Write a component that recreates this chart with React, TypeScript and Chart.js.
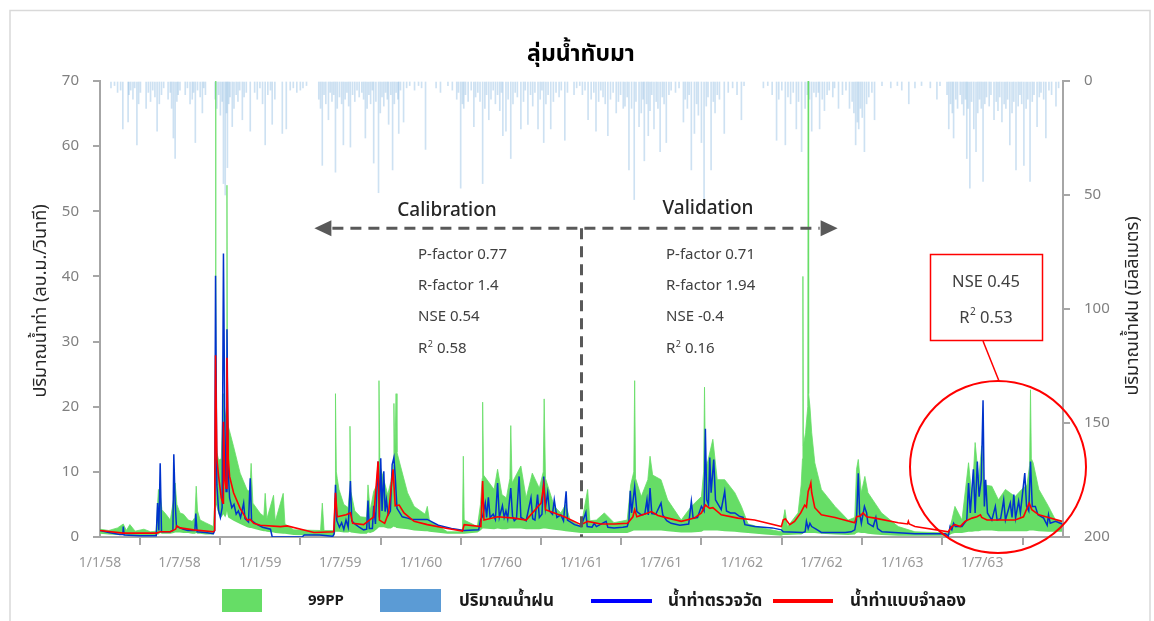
import React, { useEffect, useRef } from 'react';
import { Chart, registerables } from 'chart.js';

Chart.register(...registerables);

const FONT = "'Noto Sans', 'Noto Sans Thai', 'Leelawadee UI', Tahoma, sans-serif";

// x axis: days counted from 1/1/58 (B.E.)
const xTickDays = [0, 181, 365, 547, 731, 912, 1096, 1277, 1461, 1642, 1826, 2008, 2192];
const xTickLabels = ['1/1/58', '1/7/58', '1/1/59', '1/7/59', '1/1/60', '1/7/60', '1/1/61', '1/7/61', '1/1/62', '1/7/62', '1/1/63', '1/7/63', ''];

const titleText = 'ลุ่มน้ำทับมา';
const leftAxisTitle = 'ปริมาณน้ำท่า (ลบ.ม./วินาที)';
const rightAxisTitle = 'ปริมาณน้ำฝน (มิลลิเมตร)';
const legendLabels = ['99PP', 'ปริมาณน้ำฝน', 'น้ำท่าตรวจวัด', 'น้ำท่าแบบจำลอง'];

const calibrationStats = ['P-factor 0.77', 'R-factor 1.4', 'NSE 0.54'];
const calibrationR2 = '0.58';
const validationStats = ['P-factor 0.71', 'R-factor 1.94', 'NSE -0.4'];
const validationR2 = '0.16';
const highlightNSE = 'NSE 0.45';
const highlightR2 = '0.53';

// period limits (days): calibration arrow start, split, validation arrow end
const calibrationStartDay = 488;
const splitDay = 1096;
const validationEndDay = 1679;

// observed discharge (m3/s): [day, value]
const observedFlow: [number, number][] = [
  [0, 1.0], [20, 0.7], [45, 0.4], [52, 0.4], [53, 1.6], [55, 0.3], [90, 0.2], [128, 0.2], [131, 5.2], [134, 1.0],
  [137, 11.3], [140, 0.8], [160, 0.8], [166, 1.0], [168, 12.7], [171, 5.5], [174, 1.6], [190, 1.2], [200, 1.0], [216, 1.0],
  [218, 3.6], [221, 0.8], [240, 0.7], [258, 0.5], [261, 1.0], [263, 40.1], [266, 8.0], [270, 4.0], [274, 3.0], [278, 4.5],
  [281, 43.5], [284, 18.0], [287, 7.0], [289, 31.9], [292, 10.0], [295, 6.0], [300, 4.5], [305, 5.0], [310, 3.5], [315, 4.0],
  [320, 3.0], [327, 5.2], [330, 2.8], [338, 2.3], [342, 9.0], [345, 2.5], [355, 2.0], [370, 1.5], [388, 1.2], [392, 0.0],
  [460, 0.0], [465, 0.3], [500, 0.3], [530, 0.1], [533, 0.5], [536, 8.0], [539, 2.5], [545, 1.5], [550, 2.2], [555, 1.2],
  [560, 2.6], [565, 1.5], [570, 8.6], [573, 2.5], [580, 2.0], [590, 1.5], [600, 1.1], [607, 1.2], [610, 5.6], [613, 1.3],
  [620, 1.3], [623, 4.8], [627, 2.0], [633, 11.6], [636, 3.0], [639, 12.1], [642, 4.0], [646, 10.1], [649, 3.9], [652, 5.7],
  [656, 3.4], [661, 4.0], [665, 11.1], [669, 12.2], [672, 9.3], [676, 4.4], [688, 3.1], [700, 2.9], [710, 2.7], [745, 2.7],
  [770, 1.8], [800, 1.3], [829, 1.0], [862, 1.1], [866, 2.6], [871, 3.2], [877, 5.2], [880, 3.0], [884, 6.1], [888, 3.0],
  [895, 3.5], [900, 2.7], [905, 8.3], [909, 3.0], [916, 4.8], [920, 3.0], [924, 4.0], [928, 2.8], [935, 7.5], [939, 3.2],
  [943, 2.5], [948, 2.8], [954, 9.3], [958, 3.0], [970, 2.5], [981, 6.0], [985, 2.8], [990, 2.6], [996, 6.5], [1000, 3.0],
  [1006, 3.5], [1010, 9.3], [1014, 4.5], [1019, 6.8], [1023, 4.0], [1030, 3.5], [1034, 5.7], [1040, 3.0], [1049, 3.4], [1055, 2.5],
  [1061, 7.0], [1064, 2.6], [1080, 1.9], [1095, 1.6], [1106, 3.8], [1109, 1.6], [1120, 1.5], [1125, 2.1], [1130, 1.6], [1152, 2.4],
  [1156, 1.5], [1170, 1.4], [1190, 1.5], [1200, 1.6], [1204, 2.5], [1207, 7.1], [1210, 3.7], [1217, 7.7], [1222, 3.9], [1232, 3.4],
  [1240, 3.5], [1245, 5.7], [1248, 3.4], [1252, 7.5], [1256, 3.6], [1265, 3.5], [1277, 5.2], [1281, 3.4], [1290, 2.5], [1300, 2.1],
  [1320, 1.8], [1340, 2.0], [1346, 5.5], [1350, 2.9], [1360, 3.0], [1369, 4.7], [1375, 4.0], [1378, 16.6], [1381, 5.7], [1385, 5.0],
  [1388, 12.2], [1391, 6.8], [1397, 11.9], [1401, 5.7], [1414, 4.2], [1422, 7.0], [1426, 4.0], [1435, 3.7], [1445, 3.7], [1455, 3.2],
  [1464, 3.0], [1468, 1.9], [1490, 1.6], [1530, 1.4], [1551, 1.1], [1555, 0.8], [1600, 0.7], [1605, 0.8], [1608, 2.4], [1612, 1.3],
  [1616, 2.1], [1620, 1.6], [1630, 1.2], [1642, 0.7], [1696, 0.7], [1710, 0.8], [1718, 1.1], [1722, 2.6], [1726, 9.8], [1729, 3.7],
  [1733, 2.1], [1740, 4.7], [1745, 3.7], [1748, 2.1], [1760, 1.6], [1766, 3.0], [1770, 1.3], [1780, 0.8], [1855, 0.5], [1924, 0.5],
  [1931, 0.15], [1935, 1.6], [1939, 1.1], [1943, 2.1], [1947, 1.6], [1962, 1.6], [1973, 2.6], [1977, 8.3], [1981, 3.7], [1988, 10.4],
  [1992, 3.7], [1997, 11.6], [2001, 6.2], [2006, 8.8], [2010, 21.0], [2013, 4.7], [2016, 8.8], [2020, 3.7], [2030, 2.6], [2038, 4.7],
  [2042, 2.6], [2050, 2.8], [2057, 5.7], [2061, 2.6], [2072, 5.2], [2076, 3.0], [2080, 6.5], [2084, 2.9], [2091, 5.5], [2095, 3.7],
  [2105, 9.8], [2109, 4.7], [2114, 4.0], [2118, 11.6], [2122, 4.7], [2129, 4.7], [2135, 3.4], [2148, 2.9], [2156, 1.8], [2159, 3.4],
  [2163, 2.1], [2175, 2.4], [2190, 2.0],
];

// simulated discharge (m3/s): [day, value]
const simulatedFlow: [number, number][] = [
  [0, 1.0], [53, 0.6], [129, 0.6], [137, 0.8], [160, 0.8], [172, 1.2], [175, 1.7], [182, 1.4], [213, 1.1], [258, 0.8],
  [261, 1.0], [263, 27.9], [266, 12.0], [270, 9.3], [276, 6.0], [280, 5.2], [281, 17.7], [284, 9.0], [287, 7.5], [289, 27.5],
  [292, 12.0], [295, 9.3], [304, 6.8], [319, 4.4], [335, 2.6], [342, 2.7], [350, 2.1], [365, 1.8], [411, 1.6], [426, 1.7],
  [487, 0.7], [532, 0.8], [536, 6.8], [540, 3.1], [560, 3.4], [570, 3.7], [575, 2.1], [600, 1.9], [623, 3.1], [633, 11.6],
  [636, 2.6], [648, 2.1], [657, 3.7], [667, 10.4], [672, 4.8], [681, 4.9], [692, 3.7], [715, 2.4], [745, 1.9], [791, 1.3],
  [825, 0.9], [829, 1.9], [867, 1.6], [871, 8.6], [874, 2.6], [905, 3.1], [943, 2.9], [970, 2.6], [1004, 5.2], [1010, 8.0],
  [1014, 4.2], [1057, 3.1], [1095, 1.9], [1110, 2.4], [1140, 2.0], [1171, 2.0], [1201, 2.1], [1213, 3.1], [1217, 4.2], [1222, 3.1],
  [1247, 3.7], [1255, 3.9], [1270, 3.3], [1293, 2.9], [1323, 2.4], [1353, 2.9], [1369, 3.7], [1378, 4.9], [1388, 4.4], [1395, 4.5],
  [1414, 3.4], [1452, 2.9], [1490, 2.6], [1551, 1.6], [1555, 2.6], [1560, 2.8], [1570, 1.9], [1581, 2.4], [1595, 3.7], [1604, 4.9],
  [1608, 4.6], [1612, 7.0], [1616, 7.8], [1618, 8.3], [1620, 6.8], [1627, 4.5], [1642, 3.4], [1673, 3.0], [1718, 2.2], [1722, 3.1],
  [1730, 3.2], [1737, 3.7], [1745, 3.1], [1764, 2.9], [1817, 2.2], [1838, 2.0], [1840, 2.4], [1842, 2.0], [1855, 1.6], [1931, 0.8],
  [1939, 1.6], [1946, 1.9], [1958, 1.6], [1969, 2.4], [1985, 2.9], [1996, 3.1], [2004, 3.4], [2007, 3.0], [2019, 2.6], [2045, 2.6],
  [2083, 2.6], [2102, 3.1], [2110, 4.4], [2115, 5.2], [2121, 4.2], [2137, 3.4], [2159, 3.0], [2190, 2.4],
];

// uncertainty band (labelled 99PP): [day, lower, upper]
const band99PP: [number, number, number][] = [
  [0, 0.5, 1.2], [20, 0.4, 1.0], [40, 0.3, 1.4], [53, 0.3, 2.0], [60, 0.3, 1.0], [68, 0.2, 1.9], [80, 0.2, 0.9], [100, 0.2, 1.2],
  [115, 0.2, 0.8], [128, 0.2, 0.9], [131, 0.4, 5.0], [133, 0.4, 7.3], [137, 0.6, 6.5], [141, 0.5, 4.2], [150, 0.5, 3.5], [160, 0.5, 2.6],
  [168, 0.6, 6.0], [171, 0.7, 8.3], [175, 0.7, 5.0], [182, 0.7, 3.7], [190, 0.6, 3.5], [201, 0.6, 2.6], [210, 0.5, 2.4], [216, 0.5, 3.0],
  [219, 0.6, 7.8], [222, 0.5, 4.0], [228, 0.5, 2.6], [240, 0.4, 2.2], [258, 0.4, 1.6], [261, 0.8, 5.0], [262, 3.0, 12], [263, 6.0, 72],
  [264, 5.0, 16], [266, 4.5, 13], [270, 3.5, 11.8], [276, 3.0, 12], [281, 3.5, 22], [285, 3.0, 18], [288, 3.5, 20], [289, 4.0, 54],
  [290, 3.5, 19], [292, 3.0, 17], [304, 2.5, 13.9], [319, 2.0, 9.8], [335, 1.5, 7.2], [341, 1.4, 7.0], [344, 1.4, 11.3], [348, 1.3, 5.2],
  [365, 1.0, 3.6], [373, 0.9, 3.2], [376, 0.9, 6.7], [380, 0.8, 2.8], [395, 0.7, 6.4], [399, 0.6, 2.4], [417, 0.5, 6.7], [421, 0.5, 2.0],
  [441, 0.3, 1.1], [502, 0.2, 1.0], [506, 0.2, 5.2], [510, 0.2, 1.0], [533, 0.2, 1.0], [535, 0.6, 6.0], [536, 0.8, 22], [538, 0.8, 10],
  [540, 0.8, 9.0], [544, 0.8, 7.3], [555, 0.7, 5.0], [565, 0.7, 4.5], [568, 0.8, 7.0], [569, 0.8, 17], [571, 0.7, 7.0], [580, 0.6, 4.0],
  [593, 0.5, 3.1], [607, 0.5, 3.0], [610, 0.7, 8.0], [615, 0.6, 4.0], [623, 0.8, 7.0], [630, 1.2, 8.0], [634, 1.5, 10], [635, 1.5, 24],
  [637, 1.5, 11], [646, 1.5, 8.8], [655, 1.3, 6.5], [662, 1.3, 8.5], [668, 1.6, 11], [669, 1.6, 20.5], [671, 1.5, 12], [674, 1.5, 22],
  [676, 1.4, 13], [684, 1.3, 10.9], [700, 1.2, 6.8], [715, 1.0, 4.7], [740, 0.9, 3.5], [745, 0.9, 4.7], [750, 0.8, 2.5], [791, 0.5, 0.8],
  [825, 0.5, 0.8], [827, 0.5, 12.4], [829, 0.5, 2.6], [859, 0.7, 1.6], [866, 1.0, 5.0], [870, 1.3, 9.0], [871, 1.3, 20.7], [873, 1.3, 9.5],
  [897, 1.2, 7.3], [905, 1.3, 10.4], [915, 1.2, 6.5], [925, 1.2, 6.0], [933, 1.3, 9.0], [935, 1.3, 17.1], [938, 1.3, 8.3], [958, 1.3, 10.9],
  [970, 1.2, 6.0], [984, 1.2, 9.8], [1000, 1.2, 7.5], [1009, 1.3, 10], [1011, 1.3, 21.2], [1014, 1.3, 9.0], [1034, 1.1, 4.7], [1049, 1.0, 3.7],
  [1060, 0.9, 5.0], [1070, 0.8, 2.6], [1095, 0.6, 1.6], [1110, 0.6, 7.3], [1115, 0.6, 2.5], [1130, 0.6, 2.6], [1148, 0.6, 3.7], [1170, 0.6, 2.2],
  [1200, 0.6, 2.6], [1208, 0.8, 8.0], [1215, 1.0, 10], [1217, 1.0, 24], [1219, 1.0, 9.0], [1232, 1.0, 6.2], [1247, 1.0, 8.8], [1252, 1.0, 12.4],
  [1258, 1.0, 9.5], [1277, 1.0, 8.8], [1292, 0.9, 5.7], [1323, 0.7, 2.6], [1346, 0.7, 4.7], [1369, 0.8, 6.2], [1374, 1.0, 10], [1376, 1.0, 23],
  [1378, 1.0, 12], [1381, 1.0, 10.9], [1395, 1.0, 15], [1405, 1.0, 8.8], [1422, 0.9, 8.8], [1445, 0.8, 6.8], [1460, 0.7, 4.7], [1475, 0.6, 2.0],
  [1513, 0.4, 1.3], [1551, 0.2, 0.8], [1555, 0.3, 2.6], [1559, 0.3, 4.2], [1565, 0.3, 1.6], [1589, 0.4, 3.7], [1596, 0.4, 8.0], [1599, 0.5, 12],
  [1600, 0.5, 40], [1601, 0.6, 14], [1606, 0.6, 16], [1611, 0.6, 20], [1612, 0.6, 72], [1613, 0.6, 22], [1616, 0.6, 20], [1620, 0.6, 16],
  [1627, 0.6, 11.4], [1642, 0.5, 7.3], [1673, 0.4, 4.7], [1703, 0.3, 2.6], [1718, 0.4, 3.0], [1722, 0.6, 10.4], [1726, 0.7, 11.9], [1733, 0.6, 6.8],
  [1741, 0.6, 9.3], [1748, 0.5, 6.8], [1764, 0.4, 5.2], [1779, 0.3, 3.7], [1817, 0.2, 1.6], [1855, 0.2, 0.8], [1931, 0.2, 0.6], [1939, 0.5, 2.6],
  [1946, 0.6, 4.7], [1962, 0.6, 2.6], [1977, 0.8, 11.4], [1985, 0.8, 6.0], [1992, 0.9, 14.5], [2000, 0.9, 8.8], [2007, 1.0, 14.0], [2012, 1.0, 8.0],
  [2030, 1.0, 7.8], [2045, 0.9, 5.7], [2061, 0.9, 7.3], [2083, 0.9, 6.2], [2098, 0.9, 7.3], [2110, 0.9, 8.0], [2116, 1.0, 11], [2118, 1.0, 22.6],
  [2120, 1.0, 12], [2124, 1.0, 11.4], [2137, 0.9, 7.3], [2159, 0.8, 4.7], [2175, 0.8, 2.6], [2190, 0.8, 2.4],
];

// daily rainfall (mm): [day, value]
const rainfall: [number, number][] = [
  [25, 3], [33, 2], [40, 5], [47, 4], [52, 21], [64, 18], [66, 6], [70, 4], [75, 8], [79, 3], [84, 28], [88, 10], [92, 5], [105, 12],
  [110, 5], [115, 9], [120, 4], [125, 7], [130, 22], [135, 10], [140, 6], [145, 3], [155, 8], [160, 5], [163, 12], [167, 25], [171, 34],
  [175, 9], [178, 6], [182, 4], [194, 6], [199, 3], [205, 10], [210, 8], [213, 5], [217, 27], [222, 4], [228, 7], [233, 14], [236, 3],
  [240, 6], [262, 8], [266, 12], [270, 6], [274, 15], [278, 9], [281, 45], [285, 50], [288, 14], [290, 38], [293, 10], [296, 7], [301, 20],
  [305, 12], [310, 6], [314, 9], [318, 4], [324, 17], [328, 7], [333, 5], [342, 22], [352, 5], [358, 8], [364, 3], [370, 10], [376, 28],
  [382, 6], [388, 4], [392, 19], [398, 8], [415, 23], [424, 21], [433, 4], [440, 3], [448, 5], [456, 4], [462, 3], [470, 2], [498, 8],
  [502, 12], [506, 37], [510, 6], [514, 10], [520, 17], [524, 5], [528, 9], [532, 6], [536, 40], [540, 12], [545, 7], [550, 10], [554, 28],
  [558, 8], [562, 5], [566, 11], [570, 29], [575, 6], [580, 9], [585, 4], [590, 7], [596, 5], [600, 8], [604, 25], [608, 12], [612, 6],
  [616, 10], [620, 4], [623, 36], [628, 9], [634, 49], [638, 14], [642, 7], [646, 11], [650, 5], [654, 8], [657, 19], [662, 6], [666, 39],
  [670, 10], [674, 5], [678, 8], [680, 23], [684, 4], [691, 18], [698, 3], [705, 2], [716, 4], [725, 2], [732, 3], [741, 30], [765, 3],
  [775, 5], [792, 2], [802, 4], [812, 8], [816, 5], [821, 47], [825, 10], [828, 12], [832, 6], [838, 9], [845, 4], [851, 20], [855, 7],
  [860, 5], [865, 9], [871, 45], [876, 12], [880, 6], [885, 17], [890, 8], [895, 4], [900, 10], [905, 6], [910, 13], [914, 5], [917, 24],
  [924, 22], [929, 8], [935, 34], [940, 10], [945, 5], [950, 7], [958, 21], [964, 9], [968, 4], [974, 19], [980, 6], [985, 11], [990, 5],
  [997, 21], [1002, 8], [1006, 4], [1010, 27], [1015, 10], [1020, 6], [1026, 21], [1032, 9], [1038, 5], [1045, 7], [1050, 4], [1058, 26],
  [1064, 5], [1079, 6], [1085, 3], [1092, 2], [1098, 6], [1104, 4], [1111, 17], [1118, 8], [1124, 5], [1129, 22], [1135, 9], [1140, 4],
  [1145, 7], [1150, 10], [1156, 24], [1162, 8], [1168, 5], [1175, 14], [1180, 9], [1185, 6], [1191, 12], [1195, 11], [1200, 7], [1204, 39],
  [1210, 12], [1216, 52], [1220, 9], [1227, 20], [1232, 14], [1236, 8], [1239, 35], [1244, 10], [1248, 24], [1252, 13], [1256, 6], [1261, 21],
  [1266, 9], [1270, 12], [1275, 31], [1280, 7], [1284, 10], [1289, 27], [1295, 6], [1300, 4], [1310, 5], [1318, 3], [1328, 18], [1332, 8],
  [1337, 12], [1341, 6], [1346, 39], [1353, 23], [1358, 10], [1362, 15], [1369, 27], [1375, 54], [1380, 11], [1384, 7], [1391, 39], [1396, 9],
  [1400, 14], [1405, 6], [1410, 8], [1421, 23], [1430, 5], [1440, 3], [1450, 6], [1460, 17], [1466, 2], [1510, 3], [1520, 2], [1530, 6],
  [1540, 26], [1545, 8], [1552, 4], [1560, 28], [1566, 7], [1572, 10], [1578, 5], [1585, 21], [1590, 9], [1597, 31], [1605, 12], [1610, 6],
  [1615, 8], [1620, 22], [1625, 5], [1630, 7], [1635, 5], [1638, 21], [1644, 8], [1649, 13], [1655, 6], [1660, 4], [1668, 7], [1672, 3],
  [1681, 12], [1690, 6], [1698, 4], [1706, 12], [1712, 9], [1716, 14], [1720, 28], [1724, 18], [1727, 21], [1731, 12], [1735, 16], [1740, 31],
  [1745, 10], [1750, 7], [1757, 5], [1763, 17], [1780, 2], [1800, 3], [1815, 2], [1825, 4], [1841, 10], [1855, 3], [1870, 2], [1890, 3],
  [1905, 8], [1912, 2], [1928, 6], [1932, 21], [1936, 10], [1940, 14], [1943, 25], [1948, 8], [1952, 12], [1958, 6], [1962, 10], [1966, 15],
  [1970, 8], [1973, 34], [1976, 12], [1980, 47], [1984, 9], [1989, 21], [1994, 31], [1998, 14], [2002, 8], [2006, 12], [2010, 44], [2014, 10],
  [2018, 7], [2024, 11], [2028, 6], [2035, 17], [2040, 9], [2044, 13], [2048, 7], [2053, 18], [2058, 10], [2062, 12], [2066, 8], [2071, 28],
  [2076, 14], [2080, 9], [2085, 39], [2090, 11], [2094, 6], [2098, 10], [2103, 37], [2108, 12], [2112, 8], [2117, 44], [2122, 9], [2126, 6],
  [2133, 20], [2138, 7], [2142, 5], [2148, 8], [2153, 25], [2160, 4], [2166, 6], [2176, 11], [2182, 3],
];

const COLORS = {
  green: '#66dd66',
  rain: 'rgba(91,155,213,0.3)',
  rainLegend: '#5b9bd5',
  observed: '#0033cc',
  observedLegend: '#0000ff',
  simulated: '#ff0000',
  axis: '#a6a6a6',
  tick: '#808080',
  dash: '#595959',
  text: '#404040',
};

function drawR2(ctx: CanvasRenderingContext2D, x: number, y: number, val: string, size: number, color: string) {
  ctx.fillStyle = color;
  ctx.textAlign = 'left';
  ctx.textBaseline = 'middle';
  ctx.font = `${size}px ${FONT}`;
  ctx.fillText('R', x, y);
  const w = ctx.measureText('R').width;
  ctx.font = `${Math.round(size * 0.62)}px ${FONT}`;
  ctx.fillText('2', x + w + 0.5, y - size * 0.33);
  const w2 = ctx.measureText('2').width;
  ctx.font = `${size}px ${FONT}`;
  ctx.fillText(' ' + val, x + w + w2 + 0.5, y);
}

function r2Width(ctx: CanvasRenderingContext2D, val: string, size: number) {
  ctx.font = `${size}px ${FONT}`;
  const w = ctx.measureText('R').width + ctx.measureText(' ' + val).width;
  ctx.font = `${Math.round(size * 0.62)}px ${FONT}`;
  return w + ctx.measureText('2').width + 0.5;
}

const decorPlugin = {
  id: 'decor',
  beforeDraw(chart: any) {
    const ctx: CanvasRenderingContext2D = chart.ctx;
    ctx.save();
    ctx.fillStyle = '#ffffff';
    ctx.fillRect(0, 0, chart.width, chart.height);
    ctx.strokeStyle = '#d9d9d9';
    ctx.lineWidth = 1.5;
    ctx.strokeRect(10, 10.5, 1140, 640);
    ctx.restore();
  },
  afterDatasetsDraw(chart: any) {
    const ctx: CanvasRenderingContext2D = chart.ctx;
    const xs = chart.scales.x;
    const ys = chart.scales.y;
    ctx.save();
    const arrowY = ys.getPixelForValue(47.4);
    const splitX = xs.getPixelForValue(splitDay);
    const leftTip = xs.getPixelForValue(calibrationStartDay);
    const rightTip = xs.getPixelForValue(validationEndDay);
    ctx.strokeStyle = COLORS.dash;
    ctx.fillStyle = COLORS.dash;
    ctx.lineWidth = 3;
    ctx.setLineDash([11, 7]);
    ctx.beginPath();
    ctx.moveTo(leftTip + 18, arrowY);
    ctx.lineTo(rightTip - 18, arrowY);
    ctx.stroke();
    ctx.beginPath();
    ctx.moveTo(splitX, arrowY);
    ctx.lineTo(splitX, ys.getPixelForValue(0));
    ctx.stroke();
    ctx.setLineDash([]);
    ctx.beginPath();
    ctx.moveTo(leftTip, arrowY);
    ctx.lineTo(leftTip + 17, arrowY - 8);
    ctx.lineTo(leftTip + 17, arrowY + 8);
    ctx.closePath();
    ctx.fill();
    ctx.beginPath();
    ctx.moveTo(rightTip, arrowY);
    ctx.lineTo(rightTip - 17, arrowY - 8);
    ctx.lineTo(rightTip - 17, arrowY + 8);
    ctx.closePath();
    ctx.fill();

    ctx.fillStyle = '#262626';
    ctx.textAlign = 'center';
    ctx.textBaseline = 'middle';
    ctx.font = `500 19px ${FONT}`;
    ctx.fillText('Calibration', 447, 211);
    ctx.fillText('Validation', 708, 209);

    ctx.font = `15px ${FONT}`;
    ctx.fillStyle = COLORS.text;
    ctx.textAlign = 'left';
    const rows = [255, 286, 317, 349];
    calibrationStats.forEach((s, i) => ctx.fillText(s, 418, rows[i]));
    drawR2(ctx, 418, rows[3], calibrationR2, 15, COLORS.text);
    ctx.font = `15px ${FONT}`;
    ctx.textAlign = 'left';
    validationStats.forEach((s, i) => ctx.fillText(s, 666, rows[i]));
    drawR2(ctx, 666, rows[3], validationR2, 15, COLORS.text);

    ctx.fillStyle = '#ffffff';
    ctx.fillRect(930, 254, 112, 86);
    ctx.strokeStyle = '#ff0000';
    ctx.lineWidth = 1.5;
    ctx.strokeRect(930.5, 254.5, 112, 86);
    ctx.fillStyle = COLORS.text;
    ctx.font = `16.5px ${FONT}`;
    ctx.textAlign = 'center';
    ctx.fillText(highlightNSE, 986, 282);
    const w = r2Width(ctx, highlightR2, 16.5);
    drawR2(ctx, 986 - w / 2, 318, highlightR2, 16.5, COLORS.text);
    ctx.strokeStyle = '#ff0000';
    ctx.lineWidth = 1.5;
    ctx.beginPath();
    ctx.moveTo(983, 341);
    ctx.lineTo(999, 381);
    ctx.stroke();
    ctx.lineWidth = 2;
    ctx.beginPath();
    ctx.ellipse(998, 467, 88, 86, 0, 0, Math.PI * 2);
    ctx.stroke();
    ctx.restore();
  },
  afterDraw(chart: any) {
    const ctx: CanvasRenderingContext2D = chart.ctx;
    const area = chart.chartArea;
    const midY = (area.top + area.bottom) / 2;
    ctx.save();
    ctx.fillStyle = '#000000';
    ctx.textAlign = 'center';
    ctx.textBaseline = 'middle';
    ctx.font = `bold 23px ${FONT}`;
    ctx.fillText(titleText, 581, 54);

    ctx.font = `18px ${FONT}`;
    ctx.fillStyle = '#262626';
    ctx.save();
    ctx.translate(41, midY - 8);
    ctx.rotate(-Math.PI / 2);
    ctx.fillText(leftAxisTitle, 0, 0);
    ctx.restore();
    ctx.save();
    ctx.translate(1133, midY - 3);
    ctx.rotate(-Math.PI / 2);
    ctx.fillText(rightAxisTitle, 0, 0);
    ctx.restore();

    const ly = 601;
    ctx.textAlign = 'left';
    ctx.fillStyle = COLORS.green;
    ctx.fillRect(222, 589, 40, 23);
    ctx.fillStyle = COLORS.rainLegend;
    ctx.fillRect(380, 589, 61, 23);
    ctx.strokeStyle = COLORS.observedLegend;
    ctx.lineWidth = 4;
    ctx.beginPath();
    ctx.moveTo(591, ly);
    ctx.lineTo(652, ly);
    ctx.stroke();
    ctx.strokeStyle = COLORS.simulated;
    ctx.beginPath();
    ctx.moveTo(773, ly);
    ctx.lineTo(833, ly);
    ctx.stroke();
    ctx.fillStyle = '#1a1a1a';
    ctx.font = `bold 15px ${FONT}`;
    ctx.fillText(legendLabels[0], 308, ly);
    ctx.font = `bold 17px ${FONT}`;
    ctx.fillText(legendLabels[1], 459, ly);
    ctx.fillText(legendLabels[2], 668, ly);
    ctx.fillText(legendLabels[3], 850, ly);
    ctx.restore();
  },
};

export default function App() {
  const canvasRef = useRef<HTMLCanvasElement | null>(null);

  useEffect(() => {
    const canvas = canvasRef.current;
    if (!canvas) return;
    const chart = new Chart(canvas, {
      type: 'line',
      data: {
        datasets: [
          {
            type: 'line',
            label: legendLabels[3],
            data: simulatedFlow.map(([x, y]) => ({ x, y })),
            borderColor: COLORS.simulated,
            borderWidth: 1.6,
            pointRadius: 0,
            yAxisID: 'y',
            order: 0,
          },
          {
            type: 'line',
            label: legendLabels[2],
            data: observedFlow.map(([x, y]) => ({ x, y })),
            borderColor: COLORS.observed,
            borderWidth: 1.5,
            pointRadius: 0,
            yAxisID: 'y',
            order: 1,
          },
          {
            type: 'line',
            label: legendLabels[0],
            data: band99PP.map(([x, , hi]) => ({ x, y: hi })),
            borderColor: COLORS.green,
            borderWidth: 0.8,
            backgroundColor: COLORS.green,
            pointRadius: 0,
            fill: '+1',
            yAxisID: 'y',
            order: 2,
          },
          {
            type: 'line',
            label: '99PP lower',
            data: band99PP.map(([x, lo]) => ({ x, y: lo })),
            borderColor: COLORS.green,
            borderWidth: 0,
            pointRadius: 0,
            fill: false,
            yAxisID: 'y',
            order: 3,
          },
          {
            type: 'bar',
            label: legendLabels[1],
            data: rainfall.map(([x, y]) => ({ x, y })),
            backgroundColor: COLORS.rain,
            barThickness: 1,
            yAxisID: 'y2',
            order: 4,
          },
        ],
      } as any,
      options: {
        responsive: false,
        animation: false,
        layout: { padding: { top: 81, left: 0, right: 0, bottom: 0 } },
        plugins: {
          legend: { display: false },
          title: { display: false },
          tooltip: { enabled: false },
        },
        scales: {
          x: {
            type: 'linear',
            min: 0,
            max: 2192,
            offset: false,
            afterBuildTicks: (scale: any) => {
              scale.ticks = xTickDays.map((v) => ({ value: v }));
            },
            afterFit: (scale: any) => {
              scale.height = 84;
            },
            grid: { display: true, drawOnChartArea: false, drawTicks: true, tickLength: 8, color: COLORS.axis, lineWidth: 2 },
            border: { display: true, color: COLORS.axis, width: 2 },
            ticks: {
              autoSkip: false,
              maxRotation: 0,
              padding: 10,
              color: '#999999',
              font: { size: 14, family: FONT },
              callback: (v: any) => {
                const i = xTickDays.indexOf(Number(v));
                return i >= 0 ? xTickLabels[i] : '';
              },
            },
          },
          y: {
            position: 'left',
            min: 0,
            max: 70,
            afterFit: (scale: any) => {
              scale.width = 100;
            },
            grid: { display: true, drawOnChartArea: false, drawTicks: true, tickLength: 7, color: COLORS.axis, lineWidth: 2 },
            border: { display: true, color: COLORS.axis, width: 2 },
            ticks: { stepSize: 10, padding: 14, color: COLORS.tick, font: { size: 15, family: FONT } },
          },
          y2: {
            position: 'right',
            reverse: true,
            min: 0,
            max: 200,
            afterFit: (scale: any) => {
              scale.width = 91;
            },
            grid: { display: true, drawOnChartArea: false, drawTicks: true, tickLength: 7, color: COLORS.axis, lineWidth: 2 },
            border: { display: true, color: COLORS.axis, width: 2 },
            ticks: { stepSize: 50, padding: 14, color: COLORS.tick, font: { size: 15, family: FONT } },
          },
        },
      } as any,
      plugins: [decorPlugin],
    });
    return () => chart.destroy();
  }, []);

  return (
    <div style={{ position: 'absolute', left: 0, top: 0, width: 1154, height: 621 }}>
      <canvas ref={canvasRef} width={1154} height={621} style={{ width: 1154, height: 621 }} />
    </div>
  );
}
